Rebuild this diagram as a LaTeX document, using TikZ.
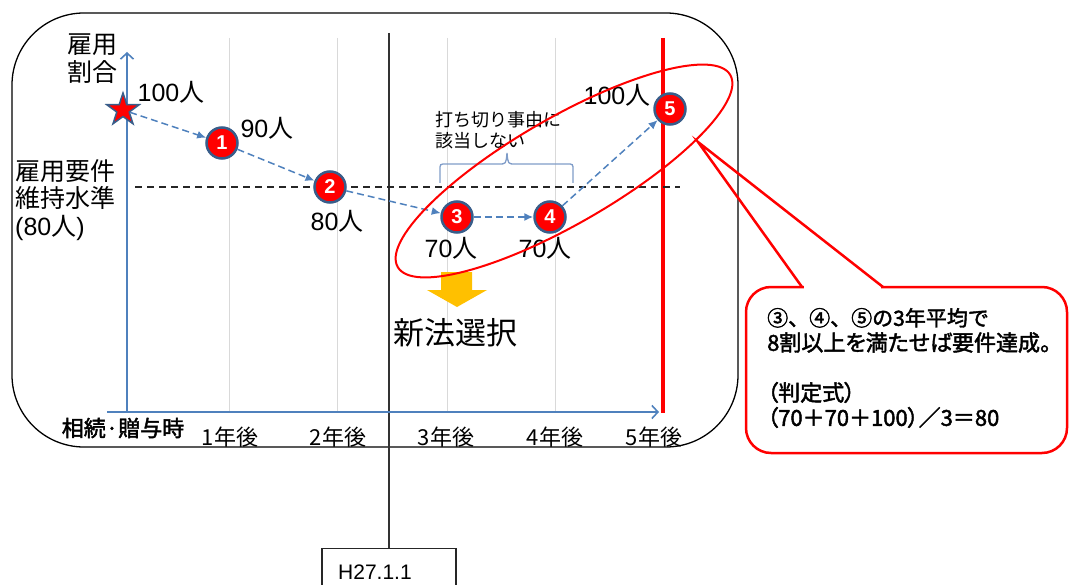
\documentclass[tikz,border=0pt]{standalone}
\usepackage{fontspec}
\setmainfont{Liberation Sans}
\newfontfamily\jp{Noto Sans CJK JP}[AutoFakeBold=2]
\newfontfamily\jpp{Noto Sans CJK JP}[AutoFakeBold=2,RawFeature=+palt]
\usetikzlibrary{arrows.meta,shapes.geometric}
\definecolor{axisblue}{HTML}{4F81BD}
\definecolor{gridgray}{HTML}{D9D9D9}
\definecolor{circborder}{HTML}{385D8A}
\definecolor{arrowyellow}{HTML}{FFC000}
\definecolor{bracecol}{HTML}{7F9CC8}
\begin{document}
\begin{tikzpicture}[x=1pt,y=-1pt,
  numcirc/.style={circle, fill=red, draw=circborder, line width=2.5pt, minimum size=31pt, inner sep=0pt, text=white, font=\fontsize{20}{20}\selectfont\bfseries},
  lbl/.style={inner sep=0pt, font=\fontsize{25}{28}\selectfont},
  flow/.style={draw=axisblue, line width=1.5pt, dash pattern=on 7pt off 4pt, -{Latex[length=9pt,width=8pt]}},
  gridline/.style={draw=gridgray, line width=1pt},
  axis/.style={draw=axisblue, line width=1.6pt, -{Straight Barb[length=6pt,width=13pt]}},
  xlab/.style={inner sep=0pt, font=\jp\fontsize{22}{24}\selectfont},
]
\useasboundingbox (0,0) rectangle (1070,585);

% main frame
\draw[line width=1.3pt, rounded corners=72pt] (12,13) rectangle (738,447);

% grid lines
\foreach \gx in {229,337,447,555} \draw[gridline] (\gx,38) -- (\gx,412);

% H27.1.1 marker
\node[draw=black!85, line width=1.2pt, minimum width=134pt, minimum height=60pt, anchor=north, inner sep=0pt] (h27) at (389,548) {};
\node[inner sep=0pt, anchor=west, font=\fontsize{21}{24}\selectfont] (h27t) at (338,572) {H27.1.1};
\coordinate (vtop) at (389,33);
\draw[draw=black!80, line width=1.3pt] (vtop) -- (h27.north);

% red 5-year line
\coordinate (rtop) at (663,38);
\coordinate (rbot) at (663,413);
\draw[red, line width=4pt] (rtop) -- (rbot);

% dashed threshold line
\coordinate (dl) at (135,187);
\coordinate (dr) at (680,187);
\draw[black!85, line width=1.6pt, dash pattern=on 7pt off 5pt] (dl) -- (dr);

% axes
\coordinate (origin) at (127,412);
\coordinate (ytop) at (127,52);
\coordinate (xstart) at (107,412);
\coordinate (xend) at (659,412);
\draw[axis] (origin) -- (ytop);
\draw[axis] (xstart) -- (xend);

% brace
\draw[bracecol, line width=1.3pt] (440,183) -- (440,170) .. controls (440,164) .. (446,164) -- (499,164) .. controls (506,164) .. (507,153) .. controls (508,164) .. (515,164) -- (567,164) .. controls (573,164) .. (573,170) -- (573,183);

% points
\node[star, star points=5, star point ratio=2.6, minimum size=34pt, inner sep=0pt, fill=red, draw=circborder, line width=1.5pt] (s0) at (123,110) {};
\node[numcirc] (c1) at (222,143) {1};
\node[numcirc] (c2) at (330,187) {2};
\node[numcirc] (c3) at (457,217) {3};
\node[numcirc] (c4) at (550,217) {4};
\node[numcirc] (c5) at (670,109) {5};

\draw[flow] (s0) -- (c1);
\draw[flow] (c1) -- (c2);
\draw[flow] (c2) -- (c3);
\draw[flow] (c3) -- (c4);
\draw[flow] (c4) -- (c5);

% value labels
\node[lbl] (v0) at (171,92) {100{\jp 人}};
\node[lbl] (v1) at (267,128) {90{\jp 人}};
\node[lbl] (v2) at (337,221) {80{\jp 人}};
\node[lbl] (v3) at (451,248) {70{\jp 人}};
\node[lbl] (v4) at (545,248) {70{\jp 人}};
\node[lbl] (v5) at (617,95) {100{\jp 人}};

% axis titles
\node[inner sep=0pt, align=center, font=\jp\fontsize{25}{28}\selectfont] (ytitle) at (92,59) {雇用\\割合};
\node[inner sep=0pt, align=left, anchor=west, font=\jp\fontsize{25}{27.5}\selectfont] (req) at (15,200) {雇用要件\\維持水準\\{\rmfamily(80}人{\rmfamily)}};
\node[inner sep=0pt, align=left, anchor=west, font=\jp\fontsize{18}{21}\selectfont] (brtxt) at (435,130) {打ち切り事由に\\該当しない};

% x labels
\node[xlab, font=\jp\bfseries\fontsize{22}{24}\selectfont] (x0) at (123,428) {相続·贈与時};
\node[xlab] (x1) at (230,437) {1年後};
\node[xlab] (x2) at (338,437) {2年後};
\node[xlab] (x3) at (446,437) {3年後};
\node[xlab] (x4) at (555,437) {4年後};
\node[xlab] (x5) at (654,437) {5年後};

% yellow arrow and new-law label
\fill[arrowyellow] (441,272) -- (472,272) -- (472,290) -- (487,290) -- (457,307) -- (427,290) -- (441,290) -- cycle;
\node[inner sep=0pt, font=\jp\fontsize{31}{34}\selectfont] (newlaw) at (455,333) {新法選択};

% red ellipse
\draw[red, line width=2pt, rotate around={30:(564,171)}] (564,171) ellipse [x radius=192pt, y radius=53pt];

% callout
\draw[red, line width=2.5pt, rounded corners=25pt, fill=white] (746,287) rectangle (1067,453);
\fill[white] (804,284.5) rectangle (881,289.5);
\draw[red, line width=2.5pt] (802,287) -- (698,142) -- (883,287);
\node[inner sep=0pt, align=left, anchor=west, font=\jpp\bfseries\fontsize{22}{25}\selectfont] (note) at (767,368) {{\jp\bfseries\fontsize{21}{25}\selectfont ③、④、⑤の3年平均で}\\8割以上を満たせば要件達成。\\[25pt]（判定式）\\（70＋70＋100）／3＝80};
\end{tikzpicture}
\end{document}
